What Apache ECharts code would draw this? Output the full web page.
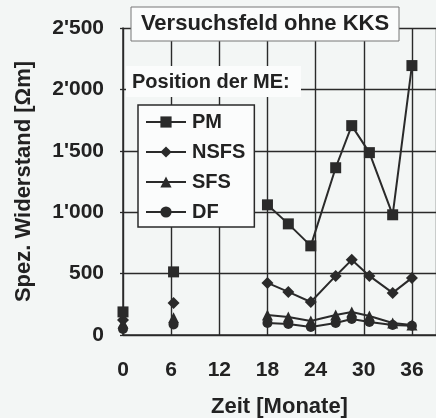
<!DOCTYPE html>
<html>
<head>
<meta charset="utf-8">
<script src="https://cdn.jsdelivr.net/npm/echarts@6/dist/echarts.min.js"></script>
<style>
  html, body { margin: 0; padding: 0; background: #f3f6f5; }
  #chart { width: 436px; height: 418px; }
</style>
</head>
<body>
<div id="chart"></div>
<script>
// Messzeitpunkte [Monate]
var months = [0, 6.3, 18, 20.6, 23.4, 26.5, 28.5, 30.7, 33.6, 36];
// Linie wird nach diesen Indizes unterbrochen
var breakAfter = [0, 1];

var pm = [188, 514, 1060, 905, 726, 1362, 1705, 1485, 979, 2194];
var nsfs = [122, 261, 424, 351, 269, 481, 612, 481, 343, 465];
var sfs = [95, 140, 163, 147, 114, 163, 188, 155, 98, 82];
var df = [49, 85, 98, 90, 65, 98, 130, 106, 82, 75];

var xTicks = [0, 6, 12, 18, 24, 30, 36];
var yTicks = [0, 500, 1000, 1500, 2000, 2500];

var ink = "#2a2a2a";
var font = "'Liberation Sans', Arial, sans-serif";

function buildData(vals) {
  var d = [];
  for (var i = 0; i < months.length; i++) {
    d.push([months[i], vals[i]]);
    if (breakAfter.indexOf(i) >= 0) d.push([months[i], "-"]);
  }
  return d;
}

function fmt(v) {
  return String(v).replace(/\B(?=(\d{3})+(?!\d))/g, "'");
}

function makeSeries(name, vals, symbol, size) {
  return {
    name: name,
    type: "line",
    data: buildData(vals),
    symbol: symbol,
    symbolSize: size,
    connectNulls: false,
    lineStyle: { color: ink, width: 2 },
    itemStyle: { color: ink },
    emphasis: { disabled: true },
    z: 3,
  };
}

var chartDom = document.getElementById("chart");
var myChart = echarts.init(chartDom);
var option;

option = {
  backgroundColor: "#f3f6f5",
  animation: false,
  textStyle: { fontFamily: font },
  grid: { left: 123, top: 28, right: 0, bottom: 83, containLabel: false, outerBoundsMode: "none" },
  xAxis: {
    type: "value",
    min: 0,
    max: 39,
    interval: 6,
    name: "Zeit [Monate]",
    nameLocation: "middle",
    nameGap: 61,
    nameTextStyle: { fontSize: 22, fontWeight: "bold", color: "#222", fontFamily: font },
    axisLine: { show: true, lineStyle: { color: ink, width: 1.5 } },
    axisTick: { show: false },
    splitLine: { show: true, lineStyle: { color: ink, width: 1.4 } },
    axisLabel: {
      fontSize: 21,
      fontWeight: "bold",
      color: "#222",
      fontFamily: font,
      margin: 25,
      showMaxLabel: false,
      formatter: function (v) {
        return xTicks.indexOf(v) >= 0 ? String(v) : "";
      },
    },
  },
  yAxis: {
    type: "value",
    min: 0,
    max: 2500,
    interval: 500,
    name: "Spez. Widerstand [\u03A9m]",
    nameLocation: "middle",
    nameGap: 88,
    nameTextStyle: { fontSize: 22, fontWeight: "bold", color: "#222", fontFamily: font },
    axisLine: { show: true, lineStyle: { color: ink, width: 1.5 } },
    axisTick: { show: true, length: 3, lineStyle: { color: ink, width: 1.3 } },
    splitLine: { show: true, lineStyle: { color: ink, width: 1.4 } },
    axisLabel: {
      fontSize: 21,
      fontWeight: "bold",
      color: "#222",
      fontFamily: font,
      margin: 19,
      formatter: function (v) {
        return yTicks.indexOf(v) >= 0 ? fmt(v) : "";
      },
    },
  },
  legend: {
    show: true,
    orient: "vertical",
    left: 138,
    top: 105,
    itemWidth: 40,
    itemHeight: 14,
    itemGap: 10,
    padding: [7, 9, 5, 7],
    backgroundColor: "#fbfcfc",
    borderColor: ink,
    borderWidth: 1.5,
    selectedMode: false,
    textStyle: { fontSize: 20, fontWeight: "bold", color: "#222", fontFamily: font, padding: [0, 0, 0, 1] },
    data: ["PM", "NSFS", "SFS", "DF"],
  },
  graphic: [
    {
      type: "rect",
      z: 100,
      shape: { x: 131, y: 7, width: 268, height: 34 },
      style: { fill: "#fbfcfc", stroke: "#777", lineWidth: 1 },
    },
    {
      type: "text",
      z: 101,
      x: 265,
      y: 24,
      style: {
        text: "Versuchsfeld ohne KKS",
        fontSize: 22,
        fontWeight: "bold",
        fontFamily: font,
        fill: "#222",
        align: "center",
        verticalAlign: "middle",
      },
    },
    {
      type: "rect",
      z: 100,
      shape: { x: 126, y: 66, width: 175, height: 31 },
      style: { fill: "#fbfcfc" },
    },
    {
      type: "text",
      z: 101,
      x: 132,
      y: 82,
      style: {
        text: "Position der ME:",
        fontSize: 20,
        fontWeight: "bold",
        fontFamily: font,
        fill: "#222",
        align: "left",
        verticalAlign: "middle",
      },
    },
  ],
  series: [
    makeSeries("PM", pm, "rect", 11),
    makeSeries("NSFS", nsfs, "diamond", 12),
    makeSeries("SFS", sfs, "triangle", 11),
    makeSeries("DF", df, "circle", 10),
  ],
};

myChart.setOption(option);
window.addEventListener("resize", function () {
  myChart.resize();
});
</script>
</body>
</html>
